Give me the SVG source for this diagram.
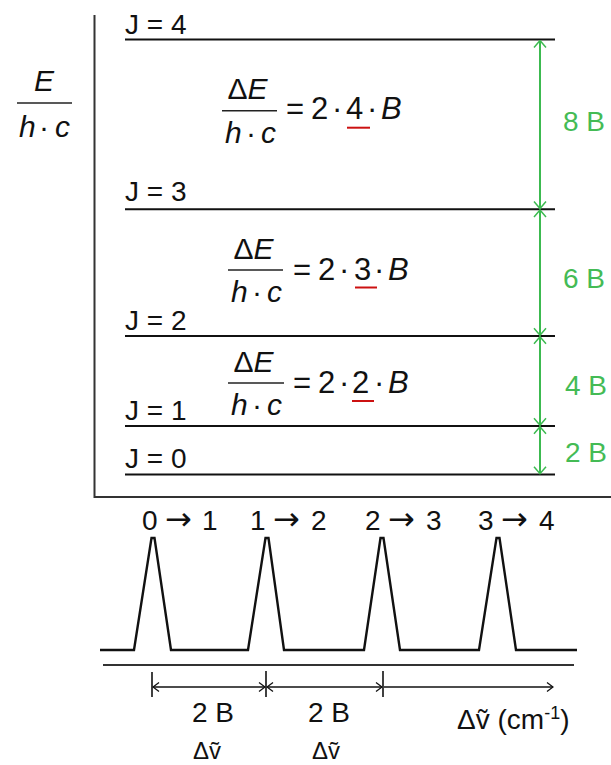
<svg xmlns="http://www.w3.org/2000/svg" width="611" height="765" viewBox="0 0 611 765">
<defs>
<style>
text{font-family:"Liberation Sans",Arial,"DejaVu Sans",sans-serif;fill:#111;font-size:28px}
.it{font-style:italic}
.fr{font-size:30px}
.mn{font-size:31px}
.ar{font-family:"DejaVu Sans",sans-serif;font-size:32px}
.g{fill:#44bb55}
.lvl{stroke:#111;stroke-width:2;fill:none}
.pk{stroke:#111;stroke-width:2.4;fill:none;stroke-linejoin:miter}
.ax{stroke:#333;stroke-width:2;fill:none}
.bar{stroke:#222;stroke-width:1.6}
.red{stroke:#cc1111;stroke-width:2}
.garr{stroke:#3cba50;stroke-width:2;fill:none;marker-start:url(#gh);marker-end:url(#gh)}
.dim{stroke:#111;stroke-width:1.3;fill:none}
.tick{stroke:#111;stroke-width:1.6}
.sm{font-size:24px}
</style>
<marker id="gh" viewBox="0 0 14 14" refX="13" refY="7" markerWidth="14" markerHeight="14" markerUnits="userSpaceOnUse" orient="auto-start-reverse">
<path d="M6,1 L13,7 L6,13" fill="none" stroke="#3cba50" stroke-width="1.5"/>
</marker>
<marker id="kh" viewBox="0 0 12 12" refX="11" refY="6" markerWidth="12" markerHeight="12" markerUnits="userSpaceOnUse" orient="auto-start-reverse">
<path d="M5,1.5 L11,6 L5,10.5" fill="none" stroke="#111" stroke-width="1.3"/>
</marker>
</defs>
<rect width="611" height="765" fill="#fff"/>

<g id="axes">
<path class="ax" d="M94.5,15 V497 H611"/>
</g>

<g id="y-label">
<text class="it fr" x="44" y="91" text-anchor="middle">E</text>
<line class="bar" x1="17" y1="103" x2="72" y2="103"/>
<text class="fr" y="137"><tspan class="it" x="19">h</tspan><tspan x="39">·</tspan><tspan class="it" x="55">c</tspan></text>
</g>

<g id="level-J4">
<line class="lvl" x1="125" y1="39.5" x2="555" y2="39.5"/>
<text x="125" y="34">J = 4</text>
</g>
<g id="level-J3">
<line class="lvl" x1="125" y1="209.3" x2="555" y2="209.3"/>
<text x="125" y="201">J = 3</text>
</g>
<g id="level-J2">
<line class="lvl" x1="125" y1="336" x2="555" y2="336"/>
<text x="125" y="330">J = 2</text>
</g>
<g id="level-J1">
<line class="lvl" x1="125" y1="426" x2="555" y2="426"/>
<text x="125" y="420">J = 1</text>
</g>
<g id="level-J0">
<line class="lvl" x1="125" y1="474.5" x2="555" y2="474.5"/>
<text x="125" y="468">J = 0</text>
</g>

<g id="eq-4">
<text class="fr" x="247.5" y="99" text-anchor="middle">Δ<tspan class="it">E</tspan></text>
<line class="bar" x1="222" y1="110.7" x2="277" y2="110.7"/>
<text class="fr" y="143"><tspan class="it" x="225">h</tspan><tspan x="246">·</tspan><tspan class="it" x="261">c</tspan></text>
<text class="mn" y="119"><tspan x="286">=</tspan><tspan x="311">2</tspan><tspan x="332">·</tspan><tspan x="346">4</tspan><tspan x="367">·</tspan><tspan class="it" x="381">B</tspan></text>
<line class="red" x1="347" y1="127.7" x2="370" y2="127.7"/>
</g>

<g id="eq-3">
<text class="fr" x="253.5" y="258.5" text-anchor="middle">Δ<tspan class="it">E</tspan></text>
<line class="bar" x1="228" y1="270" x2="283" y2="270"/>
<text class="fr" y="302"><tspan class="it" x="231">h</tspan><tspan x="252">·</tspan><tspan class="it" x="267">c</tspan></text>
<text class="mn" y="280"><tspan x="293">=</tspan><tspan x="318">2</tspan><tspan x="339">·</tspan><tspan x="354">3</tspan><tspan x="374">·</tspan><tspan class="it" x="388">B</tspan></text>
<line class="red" x1="355" y1="287.5" x2="377" y2="287.5"/>
</g>

<g id="eq-2">
<text class="fr" x="253.5" y="372" text-anchor="middle">Δ<tspan class="it">E</tspan></text>
<line class="bar" x1="228" y1="383" x2="284" y2="383"/>
<text class="fr" y="415"><tspan class="it" x="231">h</tspan><tspan x="252">·</tspan><tspan class="it" x="267">c</tspan></text>
<text class="mn" y="393"><tspan x="293">=</tspan><tspan x="318">2</tspan><tspan x="339">·</tspan><tspan x="352">2</tspan><tspan x="374">·</tspan><tspan class="it" x="388">B</tspan></text>
<line class="red" x1="352" y1="401" x2="374" y2="401"/>
</g>

<g id="connectors">
<line class="garr" x1="540" y1="40.5" x2="540" y2="208.5"/>
<line class="garr" x1="540" y1="210" x2="540" y2="335.2"/>
<line class="garr" x1="540" y1="336.8" x2="540" y2="425.2"/>
<line class="garr" x1="540" y1="426.8" x2="540" y2="473.7"/>
<line class="dim" x1="153" y1="687" x2="265" y2="687" marker-start="url(#kh)" marker-end="url(#kh)"/>
<line class="dim" x1="267" y1="687" x2="382" y2="687" marker-start="url(#kh)" marker-end="url(#kh)"/>
<line class="dim" x1="384" y1="687" x2="553" y2="687" marker-end="url(#kh)"/>
<line class="tick" x1="152" y1="672" x2="152" y2="697"/>
<line class="tick" x1="266" y1="671" x2="266" y2="697"/>
<line class="tick" x1="383" y1="671" x2="383" y2="697"/>
</g>

<g id="gap-labels">
<text class="g" x="563" y="131">8 B</text>
<text class="g" x="563" y="288">6 B</text>
<text class="g" x="565" y="395">4 B</text>
<text class="g" x="565" y="462">2 B</text>
</g>

<g id="spectrum">
<polyline class="pk" points="100,650 134,650 151.5,538 154.5,538 171,650 248,650 265.5,538 268.5,538 284,650 364,650 380.5,538 383.5,538 400,650 479,650 496.5,538 499.5,538 516,650 577,650"/>
<line class="ax" x1="103" y1="665" x2="574" y2="665"/>
<text y="530"><tspan x="142">0</tspan><tspan class="ar" x="165">→</tspan><tspan x="202">1</tspan></text>
<text y="530"><tspan x="250">1</tspan><tspan class="ar" x="273">→</tspan><tspan x="311">2</tspan></text>
<text y="530"><tspan x="365">2</tspan><tspan class="ar" x="388">→</tspan><tspan x="426">3</tspan></text>
<text y="530"><tspan x="478">3</tspan><tspan class="ar" x="501">→</tspan><tspan x="539">4</tspan></text>
</g>

<g id="spacing-labels">
<text x="192" y="722">2 B</text>
<text x="308" y="722">2 B</text>
<text class="sm" x="193" y="759">Δṽ</text>
<text class="sm" x="312" y="759">Δṽ</text>
<text x="457" y="729">Δṽ (cm<tspan font-size="18" dy="-10">-1</tspan><tspan dy="10">)</tspan></text>
</g>
</svg>
